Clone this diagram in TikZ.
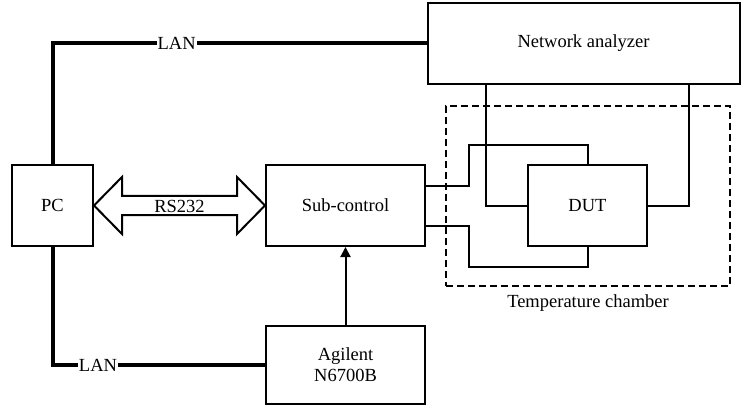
\documentclass[tikz,border=0pt]{standalone}
\usepackage{fontspec}
\setmainfont{Liberation Serif}
\newfontfamily\timesfont{Liberation Serif}
\usetikzlibrary{calc}
\usetikzlibrary{arrows.meta}

\begin{document}
\begin{tikzpicture}[x=1pt,y=-1pt]
\tikzstyle box=[draw, line width=2pt, font=\timesfont\fontsize{18.5}{21}\selectfont, align=center];
\tikzstyle wire=[line width=2pt];
\tikzstyle lan=[line width=4pt];
\tikzstyle lbl=[fill=white, inner sep=1pt, font=\timesfont\fontsize{18.5}{21}\selectfont];
\useasboundingbox (0,0) rectangle (741,406);
\node[box, minimum width=81pt, minimum height=81pt] (pc) at (52.5,205.5) {PC};
\node[box, minimum width=159pt, minimum height=81pt] (sub) at (345.5,205.5) {Sub-control};
\node[box, minimum width=159pt, minimum height=78pt] (agilent) at (345.5,365) {Agilent\\N6700B};
\node[box, minimum width=312pt, minimum height=81pt] (na) at (583.5,43.5) {Network analyzer};
\node[draw, dashed, dash pattern=on 7pt off 4pt, line width=2pt, minimum width=284pt, minimum height=180pt] (chamber) at (588,196) {};
\node[font=\timesfont\fontsize{18.5}{21}\selectfont] (chamberlbl) at (588,303) {Temperature chamber};
\node[box, minimum width=119pt, minimum height=81pt] (dut) at (587.5,205.5) {DUT};
\draw[lan] (pc.north) |- node[lbl, pos=0.666] {LAN} (na.west);
\draw[lan] (pc.south) |- node[lbl, pos=0.607] {LAN} (agilent.west);
\draw[wire, -{Triangle[length=10pt, width=10pt]}] (agilent.north) -- (sub.south);
\draw[wire] (pc.east) -- ++(28,-28.5) -- ++(0,19) -- ($(sub.west)+(-28,-9.5)$) -- ++(0,-19) -- (sub.west) -- ++(-28,28.5) -- ++(0,-19) -- ($(pc.east)+(28,9.5)$) -- ++(0,19) -- cycle;
\node[font=\timesfont\fontsize{18.5}{21}\selectfont] (rs) at ($(pc.east)!0.5!(sub.west)+(0,1)$) {RS232};
\draw[wire] ($(sub.north east)!0.27!(sub.south east)$) -| ($(sub.north east)+(43,-19)$) -| (dut.north);
\draw[wire] ($(sub.north east)!0.75!(sub.south east)$) -| ($(sub.south east)+(43,20)$) -| (dut.south);
\draw[wire] ($(na.south west)!0.19!(na.south east)$) |- (dut.west);
\draw[wire] ($(na.south west)!0.837!(na.south east)$) |- (dut.east);
\end{tikzpicture}
\end{document}
